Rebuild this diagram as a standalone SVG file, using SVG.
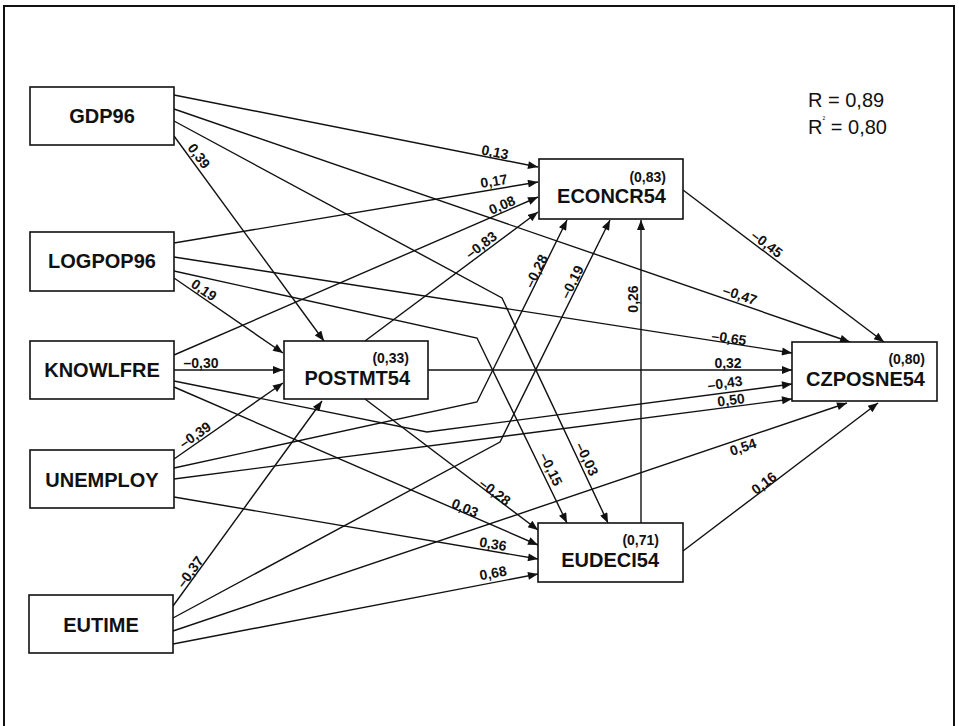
<svg xmlns="http://www.w3.org/2000/svg" width="959" height="726" viewBox="0 0 959 726">
<style>
.box{fill:#fff;stroke:#111;stroke-width:1.6}
.nl{font-family:"Liberation Sans",Arial,sans-serif;font-weight:bold;font-size:20px;fill:#111}
.nv{font-family:"Liberation Sans",Arial,sans-serif;font-weight:bold;font-size:14px;fill:#111}
.e{fill:none;stroke:#111;stroke-width:1.4;marker-end:url(#ah)}
.lbl{font-family:"Liberation Sans",Arial,sans-serif;font-weight:bold;font-size:14px;fill:#111;text-anchor:middle}
.r{font-family:"Liberation Sans",Arial,sans-serif;font-size:20px;fill:#111}
</style>
<defs>
<marker id="ah" viewBox="0 0 10 8" refX="10" refY="4" markerWidth="11" markerHeight="8" markerUnits="userSpaceOnUse" orient="auto">
<path d="M0,0 L10,4 L0,8 Z" fill="#111"/>
</marker>
</defs>
<rect x="0" y="0" width="959" height="726" fill="#fff"/>
<rect x="4" y="6" width="950" height="740" fill="none" stroke="#111" stroke-width="2"/>

<g id="connectors">
<polyline class="e" points="174,95 538,167"/>
<polyline class="e" points="174,109 850,342"/>
<polyline class="e" points="174,121 502,298 608,523"/>
<polyline class="e" points="174,136 324,341"/>
<polyline class="e" points="174,243 538,182"/>
<polyline class="e" points="174,257 792,353"/>
<polyline class="e" points="174,271 477,338 567,523"/>
<polyline class="e" points="174,278 283,353"/>
<polyline class="e" points="174,355 538,197"/>
<polyline class="e" points="174,370 283,370"/>
<polyline class="e" points="174,381 427,432 792,384"/>
<polyline class="e" points="174,387 538,545"/>
<polyline class="e" points="174,459 283,383"/>
<polyline class="e" points="174,468 477,402 567,220"/>
<polyline class="e" points="174,479 792,399"/>
<polyline class="e" points="174,497 538,559"/>
<polyline class="e" points="173,606 322,401"/>
<polyline class="e" points="173,618 500,442 610,220"/>
<polyline class="e" points="173,631 847,403"/>
<polyline class="e" points="173,644 538,574"/>
<polyline class="e" points="365,341 538,212"/>
<polyline class="e" points="428,370 792,370"/>
<polyline class="e" points="365,399 538,530"/>
<polyline class="e" points="683,190 884,342"/>
<polyline class="e" points="641,523 641,220"/>
<polyline class="e" points="683,551 878,403"/>
</g>

<g id="edge-labels">
<text class="lbl" transform="translate(495,152) rotate(11.2)" dy="0.35em">0,13</text>
<text class="lbl" transform="translate(494,181) rotate(-9.5)" dy="0.35em">0,17</text>
<text class="lbl" transform="translate(502,205) rotate(-23.5)" dy="0.35em">0,08</text>
<text class="lbl" transform="translate(481,245) rotate(-36.7)" dy="0.35em">–0,83</text>
<text class="lbl" transform="translate(199,156) rotate(53.7)" dy="0.35em">0,39</text>
<text class="lbl" transform="translate(204,290) rotate(34.5)" dy="0.35em">0,19</text>
<text class="lbl" transform="translate(201,363)" dy="0.35em">–0,30</text>
<text class="lbl" transform="translate(195,435) rotate(-34.9)" dy="0.35em">–0,39</text>
<text class="lbl" transform="translate(190,572) rotate(-54)" dy="0.35em">–0,37</text>
<text class="lbl" transform="translate(536,271) rotate(-63.7)" dy="0.35em">–0,28</text>
<text class="lbl" transform="translate(572,282) rotate(-63.6)" dy="0.35em">–0,19</text>
<text class="lbl" transform="translate(633,299) rotate(-90)" dy="0.35em">0,26</text>
<text class="lbl" transform="translate(767,244) rotate(37.1)" dy="0.35em">–0,45</text>
<text class="lbl" transform="translate(740,295) rotate(19)" dy="0.35em">–0,47</text>
<text class="lbl" transform="translate(729,338) rotate(8.8)" dy="0.35em">–0,65</text>
<text class="lbl" transform="translate(728,363)" dy="0.35em">0,32</text>
<text class="lbl" transform="translate(725,383) rotate(-7.5)" dy="0.35em">–0,43</text>
<text class="lbl" transform="translate(731,400) rotate(-7.4)" dy="0.35em">0,50</text>
<text class="lbl" transform="translate(743,447) rotate(-18.7)" dy="0.35em">0,54</text>
<text class="lbl" transform="translate(764,483) rotate(-37.2)" dy="0.35em">0,16</text>
<text class="lbl" transform="translate(551,469) rotate(64)" dy="0.35em">–0,15</text>
<text class="lbl" transform="translate(587,459) rotate(64.8)" dy="0.35em">–0,03</text>
<text class="lbl" transform="translate(495,492) rotate(37.1)" dy="0.35em">–0,28</text>
<text class="lbl" transform="translate(465,508) rotate(23.5)" dy="0.35em">0,03</text>
<text class="lbl" transform="translate(493,544) rotate(9.6)" dy="0.35em">0,36</text>
<text class="lbl" transform="translate(493,573) rotate(-10.8)" dy="0.35em">0,68</text>
</g>

<g id="GDP96"><rect class="box" x="30" y="87" width="144" height="58"/><text class="nl" x="102" y="123" text-anchor="middle">GDP96</text></g>
<g id="LOGPOP96"><rect class="box" x="30" y="232" width="144" height="59"/><text class="nl" x="102" y="268" text-anchor="middle">LOGPOP96</text></g>
<g id="KNOWLFRE"><rect class="box" x="30" y="341" width="144" height="58"/><text class="nl" x="102" y="377" text-anchor="middle">KNOWLFRE</text></g>
<g id="UNEMPLOY"><rect class="box" x="30" y="450" width="144" height="58"/><text class="nl" x="102" y="487" text-anchor="middle">UNEMPLOY</text></g>
<g id="EUTIME"><rect class="box" x="29" y="595" width="144" height="58"/><text class="nl" x="101" y="632" text-anchor="middle">EUTIME</text></g>
<g id="POSTMT54"><rect class="box" x="284" y="341" width="144" height="58"/><text class="nv" x="409" y="363" text-anchor="end">(0,33)</text><text class="nl" x="410" y="385" text-anchor="end">POSTMT54</text></g>
<g id="ECONCR54"><rect class="box" x="539" y="159" width="144" height="60"/><text class="nv" x="666" y="182" text-anchor="end">(0,83)</text><text class="nl" x="666" y="203" text-anchor="end">ECONCR54</text></g>
<g id="EUDECI54"><rect class="box" x="538" y="523" width="145" height="59"/><text class="nv" x="659" y="545" text-anchor="end">(0,71)</text><text class="nl" x="659" y="567" text-anchor="end">EUDECI54</text></g>
<g id="CZPOSNE54"><rect class="box" x="792" y="342" width="145" height="59"/><text class="nv" x="925" y="364" text-anchor="end">(0,80)</text><text class="nl" x="925" y="386" text-anchor="end">CZPOSNE54</text></g>

<g id="fit">
<text class="r" x="808" y="107">R = 0,89</text>
<text class="r" x="808" y="134">R<tspan font-size="5" dy="-14">2</tspan><tspan dy="14"> = 0,80</tspan></text>
</g>
</svg>
